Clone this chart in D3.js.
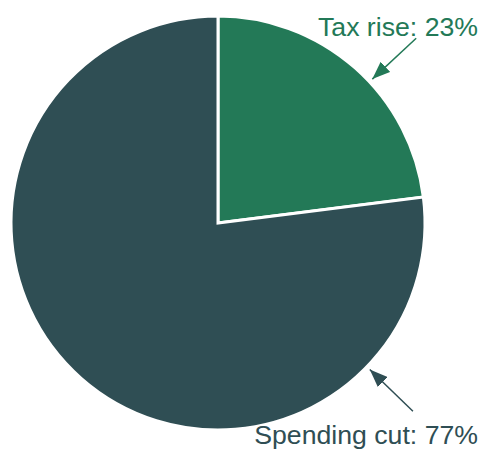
<!DOCTYPE html>
<html>
<head>
<meta charset="utf-8">
<script src="https://cdn.jsdelivr.net/npm/d3@7"></script>
<style>
  body { margin: 0; background: #fff; }
  text { font-family: "Liberation Sans", Arial, sans-serif; }
</style>
</head>
<body>
<svg id="chart" width="482" height="450"></svg>
<script>
"use strict";

var categories = ["Tax rise", "Spending cut"];
var values = [23, 77];
var colors = ["#237957", "#2f4e54"];
// where each label's arrow points (degrees clockwise from top)
var arrowAngles = [47, 134];

var width = 482, height = 450;
var cx = 218, cy = 223, radius = 207;

var svg = d3.select("#chart");
var g = svg.append("g").attr("transform", "translate(" + cx + "," + cy + ")");

var pie = d3.pie().sort(null).value(function(d) { return d; });
var arc = d3.arc().innerRadius(0).outerRadius(radius);
var color = d3.scaleOrdinal().domain(categories).range(colors);

g.selectAll("path.slice")
  .data(pie(values))
  .enter().append("path")
  .classed("slice", true)
  .attr("d", arc)
  .attr("fill", function(d, i) { return color(categories[i]); })
  .attr("stroke", "#fff")
  .attr("stroke-width", 3)
  .attr("stroke-linejoin", "miter");

var defs = svg.append("defs");
categories.forEach(function(c, i) {
  defs.append("marker")
    .attr("id", "arrow" + i)
    .attr("viewBox", "0 0 18 14")
    .attr("refX", 18).attr("refY", 7)
    .attr("markerWidth", 18).attr("markerHeight", 14)
    .attr("markerUnits", "userSpaceOnUse")
    .attr("orient", "auto")
    .append("path")
    .attr("d", "M0,0L18,7L0,14Z")
    .attr("fill", color(c));
});

function polar(angleDeg, r) {
  var a = angleDeg * Math.PI / 180;
  return [Math.sin(a) * r, -Math.cos(a) * r];
}

categories.forEach(function(c, i) {
  var tip = polar(arrowAngles[i], radius + 4);
  var tail = polar(arrowAngles[i], radius + 64);
  g.append("line")
    .attr("x1", tail[0]).attr("y1", tail[1])
    .attr("x2", tip[0]).attr("y2", tip[1])
    .attr("stroke", color(c))
    .attr("stroke-width", 1.5)
    .attr("marker-end", "url(#arrow" + i + ")");
});

var labelY = [36, 444];
svg.selectAll("text.label")
  .data(categories)
  .enter().append("text")
  .classed("label", true)
  .attr("x", 478)
  .attr("y", function(d, i) { return labelY[i]; })
  .attr("text-anchor", "end")
  .attr("fill", function(d) { return color(d); })
  .style("font-size", "26.67px")
  .text(function(d, i) { return d + ": " + values[i] + "%"; });
</script>
</body>
</html>
